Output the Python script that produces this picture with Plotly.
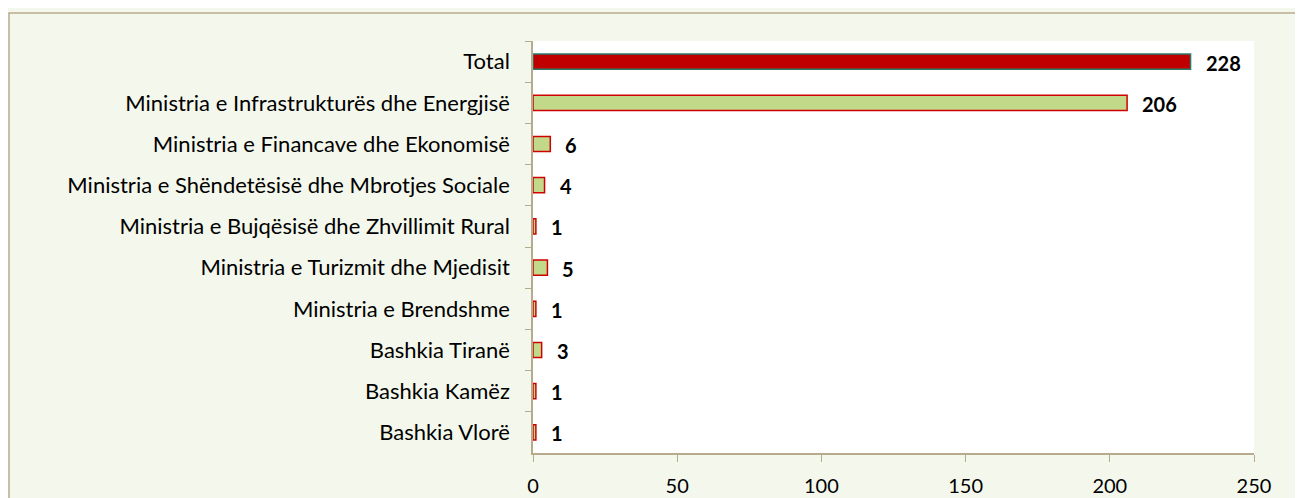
import plotly.graph_objects as go

categories = [
    "Total",
    "Ministria e Infrastrukturës dhe Energjisë",
    "Ministria e Financave dhe Ekonomisë",
    "Ministria e Shëndetësisë dhe Mbrotjes Sociale",
    "Ministria e Bujqësisë dhe Zhvillimit Rural",
    "Ministria e Turizmit dhe Mjedisit",
    "Ministria e Brendshme",
    "Bashkia Tiranë",
    "Bashkia Kamëz",
    "Bashkia Vlorë",
]
values = [228, 206, 6, 4, 1, 5, 1, 3, 1, 1]
fill_colors = ["#c00000"] + ["#c3d98a"] * 9
line_colors = ["#2a7a6c"] + ["#d00000"] * 9

# the page body adds an 8px offset, so the figure is sized to fill the rest
W, H = 1295, 490
ml, mr, mt, mb = 525, 49, 33, 45
PW, PH = W - ml - mr, H - mt - mb
FONT = "Lato, Carlito, sans-serif"

fig = go.Figure()
fig.add_trace(go.Bar(
    x=values,
    y=categories,
    orientation="h",
    width=0.37,
    marker=dict(color=fill_colors, line=dict(color=line_colors, width=1.5)),
    hoverinfo="x+y",
))

for c, v in zip(categories, values):
    fig.add_annotation(x=v, y=c, text=f"<b>{v}</b>", showarrow=False,
                       xanchor="left", xshift=13, yshift=-1,
                       font=dict(family=FONT, size=20, color="#000"))

# outer chart border (only left and top edges fall inside the picture)
fig.add_shape(type="rect", xref="paper", yref="paper",
              x0=(1 - ml) / PW, x1=(W + 20 - ml) / PW,
              y0=(-mb - 20) / PH, y1=(H - mb - 5) / PH,
              line=dict(color="#b8ab8c", width=1.5), fillcolor="rgba(0,0,0,0)", layer="below")

fig.update_layout(
    width=W, height=H,
    margin=dict(l=ml, r=mr, t=mt, b=mb, autoexpand=False),
    paper_bgcolor="#f4f8ec",
    plot_bgcolor="#ffffff",
    showlegend=False,
    bargap=0.63,
    font=dict(family=FONT, size=20, color="#000"),
)
fig.update_yaxes(
    autorange="reversed", automargin=False,
    showline=True, linecolor="#b8ab8c", linewidth=1.5,
    ticks="outside", ticklen=6, tickcolor="#b8ab8c", tickson="boundaries",
    ticklabelstandoff=17, showgrid=False,
    tickfont=dict(family=FONT, size=22),
)
fig.update_xaxes(
    range=[0, 250], tickvals=[0, 50, 100, 150, 200, 250], automargin=False,
    showline=True, linecolor="#b8ab8c", linewidth=1.5,
    ticks="outside", ticklen=7, tickcolor="#b8ab8c",
    showgrid=False, zeroline=False, ticklabelstandoff=7,
    tickfont=dict(family=FONT, size=20),
)

fig.write_html("out.html")
